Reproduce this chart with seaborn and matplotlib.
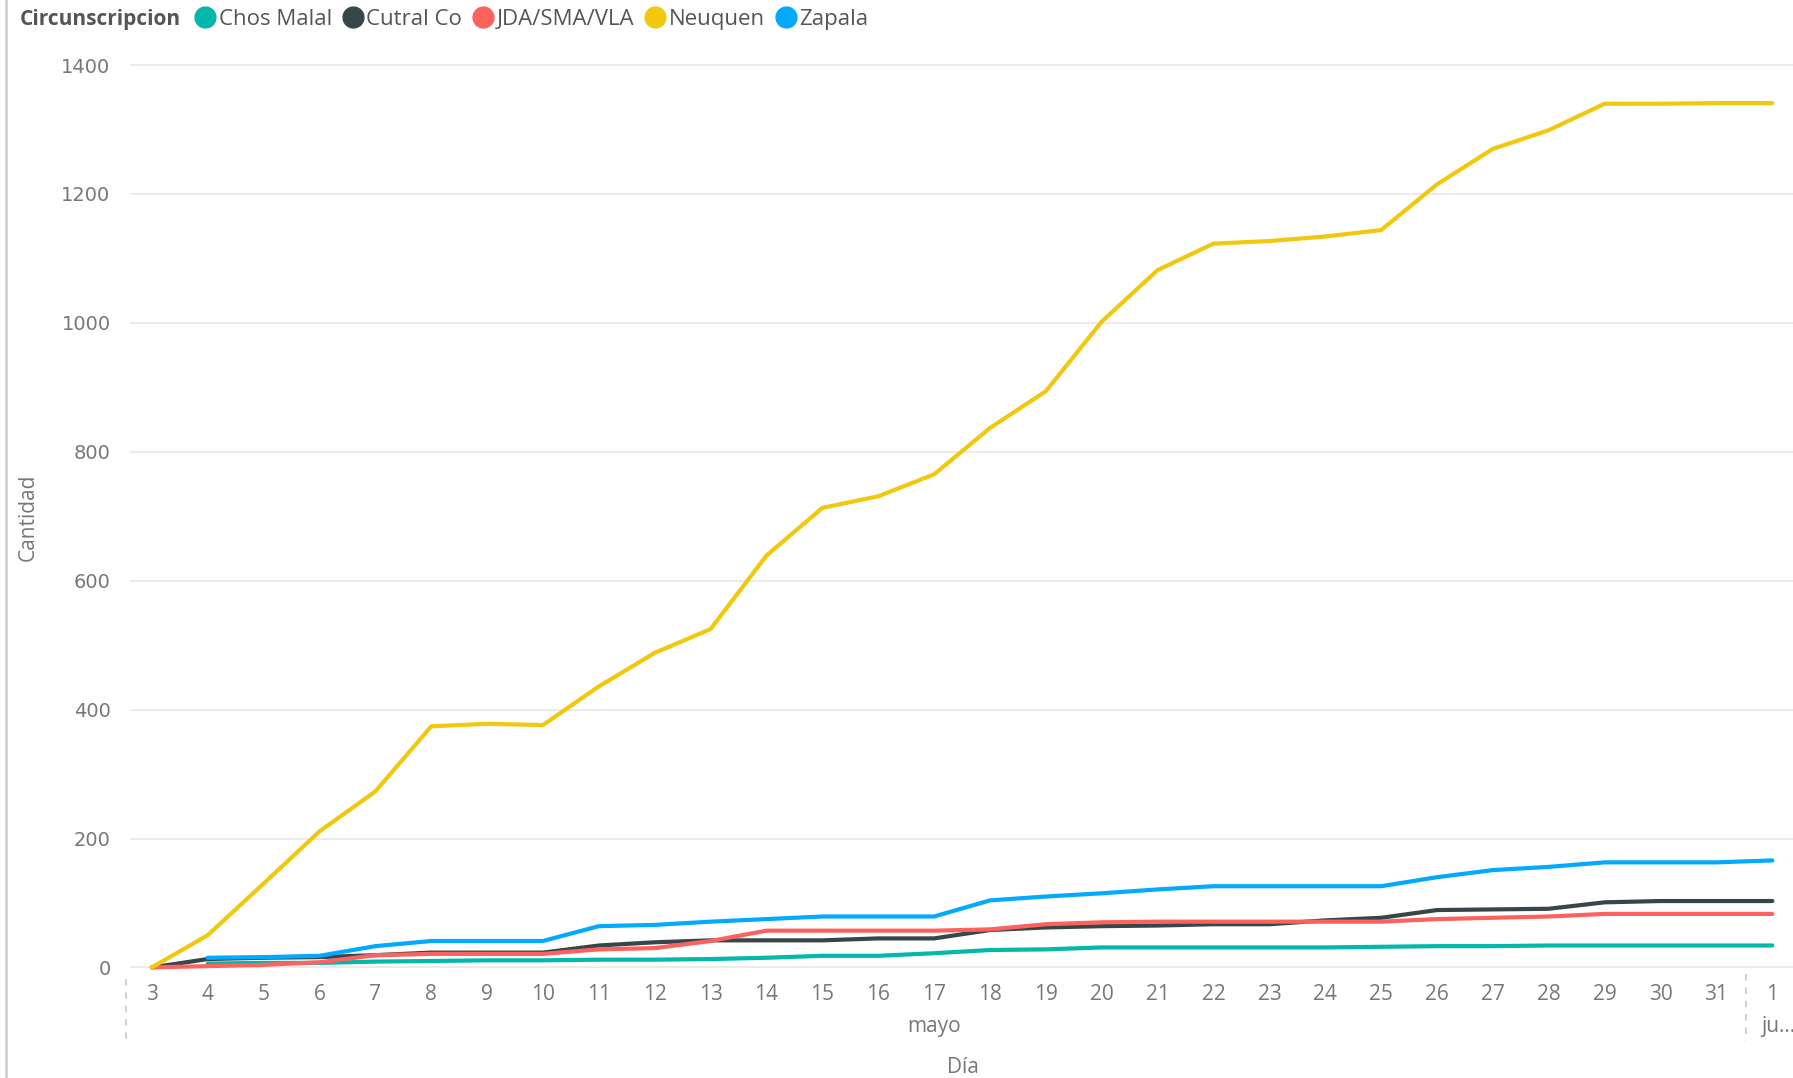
import numpy as np
import pandas as pd
import matplotlib.pyplot as plt
from matplotlib.lines import Line2D
import seaborn as sns

# Days on the x axis (3..31 May, then 1 June)
days = ['3', '4', '5', '6', '7', '8', '9', '10', '11', '12', '13', '14', '15', '16', '17',
        '18', '19', '20', '21', '22', '23', '24', '25', '26', '27', '28', '29', '30', '31', '1']

# Cumulative counts per circunscripcion
chos_malal = [np.nan, 6, 7, 7, 9, 10, 11, 11, 12, 12, 13, 15, 18, 18, 22,
              27, 28, 31, 31, 31, 31, 31, 32, 33, 33, 34, 34, 34, 34, 34]
cutral_co = [0, 13, 15, 16, 19, 23, 23, 23, 34, 39, 42, 42, 42, 45, 45,
             58, 62, 64, 65, 67, 67, 73, 77, 89, 90, 91, 101, 103, 103, 103]
jda_sma_vla = [0, 2, 4, 8, 19, 21, 21, 21, 28, 30, 41, 57, 57, 57, 57,
               59, 67, 70, 71, 71, 71, 71, 71, 75, 77, 79, 83, 83, 83, 83]
neuquen = [0, 50, 130, 211, 273, 374, 378, 376, 436, 488, 525, 639, 713, 731, 765,
           837, 894, 1002, 1082, 1123, 1127, 1134, 1144, 1215, 1270, 1299, 1340, 1340, 1341, 1341]
zapala = [np.nan, 15, 16, 18, 33, 41, 41, 41, 64, 66, 71, 75, 79, 79, 79,
          104, 110, 115, 121, 126, 126, 126, 126, 140, 151, 156, 163, 163, 163, 166]

series = {'Chos Malal': chos_malal, 'Cutral Co': cutral_co, 'JDA/SMA/VLA': jda_sma_vla,
          'Neuquen': neuquen, 'Zapala': zapala}
colors = {'Chos Malal': '#01B8AA', 'Cutral Co': '#374649', 'JDA/SMA/VLA': '#FD625E',
          'Neuquen': '#F2C80F', 'Zapala': '#01A9FF'}

rows = []
for name, vals in series.items():
    for i, v in enumerate(vals):
        rows.append({'pos': i, 'Cantidad': v, 'Circunscripcion': name})
df = pd.DataFrame(rows).dropna()

sns.set_theme(style="white")
plt.rcParams['font.family'] = ['Open Sans', 'DejaVu Sans']

fig = plt.figure(figsize=(17.93, 10.78), dpi=100)
ax = fig.add_axes([130 / 1793, 0.0966, 1 - 130 / 1793, 0.855])

sns.lineplot(data=df, x='pos', y='Cantidad', hue='Circunscripcion', palette=colors,
             linewidth=3.0, legend=False, ax=ax)

ax.set_xlim(-0.39, 29.37)
ax.set_ylim(-10, 1420)
ax.set_yticks(range(0, 1401, 200))
ax.set_xticks(range(len(days)))
ax.set_xticklabels(days)
ax.tick_params(axis='y', length=0, pad=14, labelsize=14, labelcolor='#777777')
ax.tick_params(axis='x', length=0, pad=7, labelsize=15, labelcolor='#777777')
for lab in ax.get_yticklabels():
    lab.set_family(['DejaVu Sans'])
ax.grid(axis='y', color='#e8e8e8', linewidth=1.2)
ax.set_axisbelow(True)
for s in ax.spines.values():
    s.set_visible(False)
ax.set_xlabel('')
ax.set_ylabel('')

# month labels and separators
ax.text(14, -0.057, 'mayo', transform=ax.get_xaxis_transform(), ha='center', va='center',
        fontsize=15, color='#777777')
ax.text(29.1, -0.057, 'ju...', transform=ax.get_xaxis_transform(), ha='center', va='center',
        fontsize=15, color='#777777')
for xs, y0 in [(-0.465, -0.0055), (28.53, 0.0)]:
    ax.plot([xs, xs], [y0, -0.0728], transform=ax.get_xaxis_transform(), clip_on=False,
            color='#c8c8c8', linestyle=(0, (4, 4)), linewidth=1.2)

fig.text(963 / 1793, 0.0102, 'Día', ha='center', va='center', fontsize=15, color='#777777')
fig.text(28 / 1793, 0.520, 'Cantidad', ha='center', va='center', rotation=90,
         fontsize=15, color='#777777')

# left border
fig.add_artist(Line2D([6 / 1793, 6 / 1793], [0, 1], color='#d0d0d0', linewidth=2))

# legend
fig.text(20 / 1793, 0.982, 'Circunscripcion', ha='left', va='center', fontsize=15,
         fontweight='bold', color='#555555')
handles = [Line2D([], [], marker='o', linestyle='', markersize=15, color=colors[n])
           for n in series]
fig.legend(handles, list(series.keys()), loc='center left', bbox_to_anchor=(192 / 1793, 0.982),
           ncol=5, frameon=False, fontsize=16, handletextpad=0.0, columnspacing=0.35,
           borderpad=0, borderaxespad=0, labelcolor='#555555', handlelength=1.2)

fig.savefig('out.png', dpi=100)
